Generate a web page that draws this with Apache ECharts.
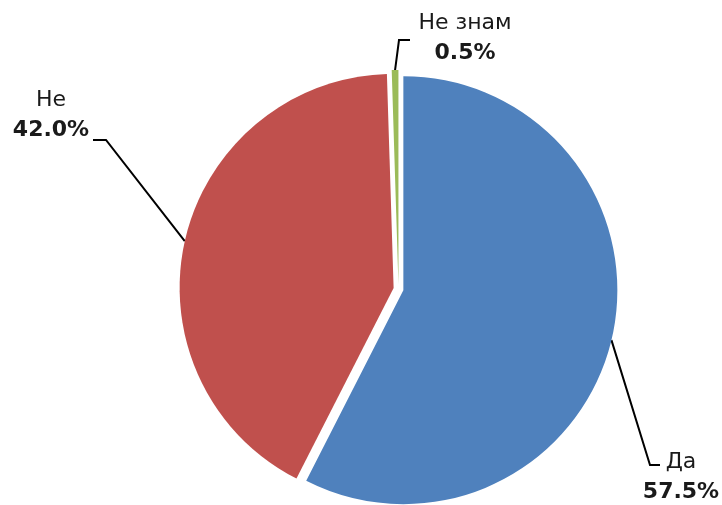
<!DOCTYPE html>
<html>
<head>
<meta charset="utf-8">
<script src="https://cdn.jsdelivr.net/npm/echarts@6/dist/echarts.min.js"></script>
<style>
html,body{margin:0;padding:0;background:#fff;}
#main{width:722px;height:505px;}
</style>
</head>
<body>
<div id="main"></div>
<script>
// ---- data ----
var categories = ['Да', 'Не', 'Не знам'];
var values = [57.5, 42.0, 0.5];
var colors = ['#4F81BD', '#C0504D', '#9BBB59'];

// ---- layout (not data) ----
var CENTER = [398.5, 289];
var RADIUS = 214;
var EXPLODE = 5;
var labelCenters = [[681, 477], [51, 115], [465, 38]];
var labelElbows = [[[650, 465], [660, 465]], [[106, 140], [93, 140]], [[399, 40], [410, 40]]];

var chart = echarts.init(document.getElementById('main'), null, {renderer: 'canvas'});

var sliceData = categories.map(function (c, i) {
  return { name: c, value: values[i], selected: true, itemStyle: { color: colors[i] } };
});
var labelData = categories.map(function (c, i) {
  return { name: c, value: values[i] };
});

var textBase = { fontFamily: 'DejaVu Sans', fontSize: 22, color: '#1a1a1a', lineHeight: 30 };

chart.setOption({
  animation: false,
  series: [
    {
      type: 'pie',
      center: CENTER,
      radius: RADIUS,
      startAngle: 90,
      clockwise: true,
      selectedMode: 'multiple',
      selectedOffset: EXPLODE,
      avoidLabelOverlap: false,
      itemStyle: { borderWidth: 0 },
      emphasis: { disabled: true, scale: false },
      label: { show: false },
      labelLine: { show: false },
      silent: true,
      data: sliceData
    },
    {
      type: 'pie',
      center: CENTER,
      radius: RADIUS + EXPLODE,
      startAngle: 90,
      clockwise: true,
      silent: true,
      avoidLabelOverlap: false,
      itemStyle: { color: 'rgba(0,0,0,0)', borderWidth: 0 },
      emphasis: { disabled: true },
      label: {
        show: true,
        position: 'outside',
        overflow: 'none',
        formatter: function (p) { return '{n|' + p.name + '}\n{v|' + p.value.toFixed(1) + '%}'; },
        rich: {
          n: Object.assign({}, textBase),
          v: Object.assign({ fontWeight: 'bold' }, textBase)
        }
      },
      labelLine: { show: true, length: 10, length2: 10, lineStyle: { color: '#000', width: 2 } },
      labelLayout: function (p) {
        var i = p.dataIndex;
        var a = p.labelLinePoints ? p.labelLinePoints[0] : labelElbows[i][0];
        return {
          x: labelCenters[i][0],
          y: labelCenters[i][1],
          align: 'center',
          verticalAlign: 'middle',
          labelLinePoints: [a, labelElbows[i][0], labelElbows[i][1]]
        };
      },
      data: labelData
    }
  ]
});
</script>
</body>
</html>
